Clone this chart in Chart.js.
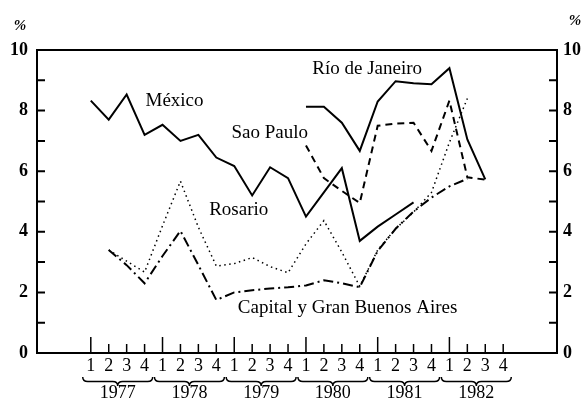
<!DOCTYPE html>
<html>
<head>
<meta charset="utf-8">
<script src="https://cdn.jsdelivr.net/npm/chart.js@4.4.1/dist/chart.umd.min.js"></script>
<style>
  html, body { margin: 0; padding: 0; background: #fff; }
  #wrap { width: 587px; height: 401px; }
</style>
</head>
<body>
<div id="wrap"><canvas id="chart"></canvas></div>
<script>
"use strict";

// quarters 1977 T1 .. 1982 T4 (index 0..23)
const years = ['1977', '1978', '1979', '1980', '1981', '1982'];
const quarters = ['1', '2', '3', '4'];

const mexico   = [8.33, 7.7, 8.53, 7.2,  7.53, 7.0, 7.2, 6.45,  6.17, 5.2, 6.13, 5.77,  4.5, 5.3, 6.1, 3.7,  4.17, 4.57, 4.97, null,  null, null, null, null];
const rio      = [null, null, null, null,  null, null, null, null,  null, null, null, null,  8.13, 8.13, 7.6, 6.67,  8.3, 8.97, 8.9, 8.87,  9.4, 7.05, 5.73, null];
const saoPaulo = [null, null, null, null,  null, null, null, null,  null, null, null, null,  6.85, 5.77, 5.35, 4.95,  7.5, 7.57, 7.6, 6.67,  8.33, 5.8, 5.72, null];
const rosario  = [null, 3.4, 3.03, 2.67,  4.2, 5.67, 4.15, 2.87,  2.95, 3.15, 2.85, 2.65,  3.6, 4.37, 3.33, 2.2,  3.4, 4.1, 4.65, 5.3,  6.95, 8.4, null, null];
const capital  = [null, 3.4, 2.9, 2.3,  3.2, 4.03, 2.9, 1.75,  2.0, 2.07, 2.13, 2.17,  2.23, 2.4, 2.3, 2.17,  3.37, 4.1, 4.67, 5.13,  5.5, 5.75, null, null];

const seriesNames = ['México', 'Río de Janeiro', 'Sao Paulo', 'Rosario', 'Capital y Gran Buenos Aires'];

const SERIF = '"Liberation Serif", "Times New Roman", serif';

function pts(arr) {
  return arr.map((v, i) => ({ x: i, y: v }));
}

function ds(label, arr, dash, width) {
  return {
    label: label,
    data: pts(arr),
    borderColor: '#000',
    borderWidth: width,
    borderDash: dash,
    pointRadius: 0,
    tension: 0,
    spanGaps: false,
    fill: false,
  };
}

// where the series names sit, in quarter index / percent
const nameAnchors = [
  [3.05, 8.33], [12.35, 9.37], [7.85, 7.25], [6.6, 4.73], [8.2, 1.5],
];

function brace(ctx, x1, x2, y, h) {
  const xm = (x1 + x2) / 2;
  const r = 5;
  ctx.beginPath();
  ctx.moveTo(x1, y);
  ctx.quadraticCurveTo(x1, y + h / 2, x1 + r, y + h / 2);
  ctx.lineTo(xm - r, y + h / 2);
  ctx.quadraticCurveTo(xm, y + h / 2, xm, y + h);
  ctx.quadraticCurveTo(xm, y + h / 2, xm + r, y + h / 2);
  ctx.lineTo(x2 - r, y + h / 2);
  ctx.quadraticCurveTo(x2, y + h / 2, x2, y);
  ctx.stroke();
}

const decorations = {
  id: 'decorations',
  afterDatasetsDraw(chart) {
    const { ctx, chartArea: a, scales } = chart;
    const xs = scales.x, yl = scales.y;
    ctx.save();
    ctx.strokeStyle = '#000';
    ctx.fillStyle = '#000';

    // top edge of the frame
    ctx.lineWidth = 2;
    ctx.beginPath();
    ctx.moveTo(a.left, a.top);
    ctx.lineTo(a.right, a.top);
    ctx.stroke();

    // inward ticks on both y axes
    yl.ticks.forEach(t => {
      const py = yl.getPixelForValue(t.value);
      ctx.beginPath();
      ctx.moveTo(a.left, py); ctx.lineTo(a.left + 8, py);
      ctx.moveTo(a.right, py); ctx.lineTo(a.right - 8, py);
      ctx.stroke();
    });

    // quarter ticks, taller at the first quarter
    ctx.lineWidth = 1.5;
    for (let i = 0; i < years.length * 4; i++) {
      const px = xs.getPixelForValue(i);
      const h = i % 4 === 0 ? 16 : 9;
      ctx.beginPath();
      ctx.moveTo(px, a.bottom); ctx.lineTo(px, a.bottom - h);
      ctx.stroke();
    }

    // braces + years
    ctx.lineWidth = 1.5;
    ctx.font = '18px ' + SERIF;
    ctx.textAlign = 'center';
    ctx.textBaseline = 'middle';
    years.forEach((yr, k) => {
      const x1 = xs.getPixelForValue(k * 4 - 0.45);
      const x2 = xs.getPixelForValue(k * 4 + 3.45);
      brace(ctx, x1, x2, a.bottom + 24, 9);
      ctx.fillText(yr, (x1 + x2) / 2, a.bottom + 40);
    });

    // series names
    ctx.font = '19px ' + SERIF;
    ctx.textAlign = 'left';
    seriesNames.forEach((n, i) => {
      const [vx, vy] = nameAnchors[i];
      ctx.fillText(n, xs.getPixelForValue(vx), yl.getPixelForValue(vy));
    });

    // percent signs
    ctx.font = 'bold italic 15px ' + SERIF;
    ctx.textAlign = 'center';
    ctx.fillText('%', a.left - 17, a.top - 24);
    ctx.fillText('%', a.right + 18, a.top - 29);
    ctx.restore();
  }
};

const yTicks = {
  stepSize: 1,
  color: '#000',
  font: { family: SERIF, size: 18, weight: 'bold' },
  callback: v => (v % 2 === 0 ? String(v) : ''),
};

new Chart(document.getElementById('chart'), {
  type: 'line',
  data: {
    datasets: [
      ds(seriesNames[0], mexico, [], 2),
      ds(seriesNames[1], rio, [], 2),
      ds(seriesNames[2], saoPaulo, [7, 5], 2),
      ds(seriesNames[3], rosario, [1.5, 3.5], 1.5),
      ds(seriesNames[4], capital, [10, 4, 2, 4], 2),
    ],
  },
  options: {
    responsive: true,
    maintainAspectRatio: false,
    animation: false,
    layout: { padding: { top: 50, right: 0, bottom: 0, left: 0 } },
    plugins: { legend: { display: false }, tooltip: { enabled: false } },
    scales: {
      x: {
        type: 'linear',
        min: -3,
        max: 26,
        afterBuildTicks: s => { s.ticks = years.flatMap((y, k) => quarters.map((q, j) => ({ value: k * 4 + j }))); },
        ticks: {
          color: '#000',
          font: { family: SERIF, size: 18 },
          padding: 2,
          maxRotation: 0,
          autoSkip: false,
          callback: v => quarters[v % 4],
        },
        grid: { display: false, drawTicks: false },
        border: { color: '#000', width: 2 },
        afterFit: s => { s.height = 48; },
      },
      y: {
        position: 'left',
        min: 0,
        max: 10,
        ticks: Object.assign({ padding: 9 }, yTicks),
        grid: { display: false, drawTicks: false },
        border: { color: '#000', width: 2 },
        afterFit: s => { s.width = 37; },
      },
      y2: {
        position: 'right',
        min: 0,
        max: 10,
        ticks: Object.assign({ padding: 6 }, yTicks),
        grid: { display: false, drawTicks: false },
        border: { color: '#000', width: 2 },
        afterFit: s => { s.width = 30; },
      },
    },
  },
  plugins: [decorations],
});
</script>
</body>
</html>
